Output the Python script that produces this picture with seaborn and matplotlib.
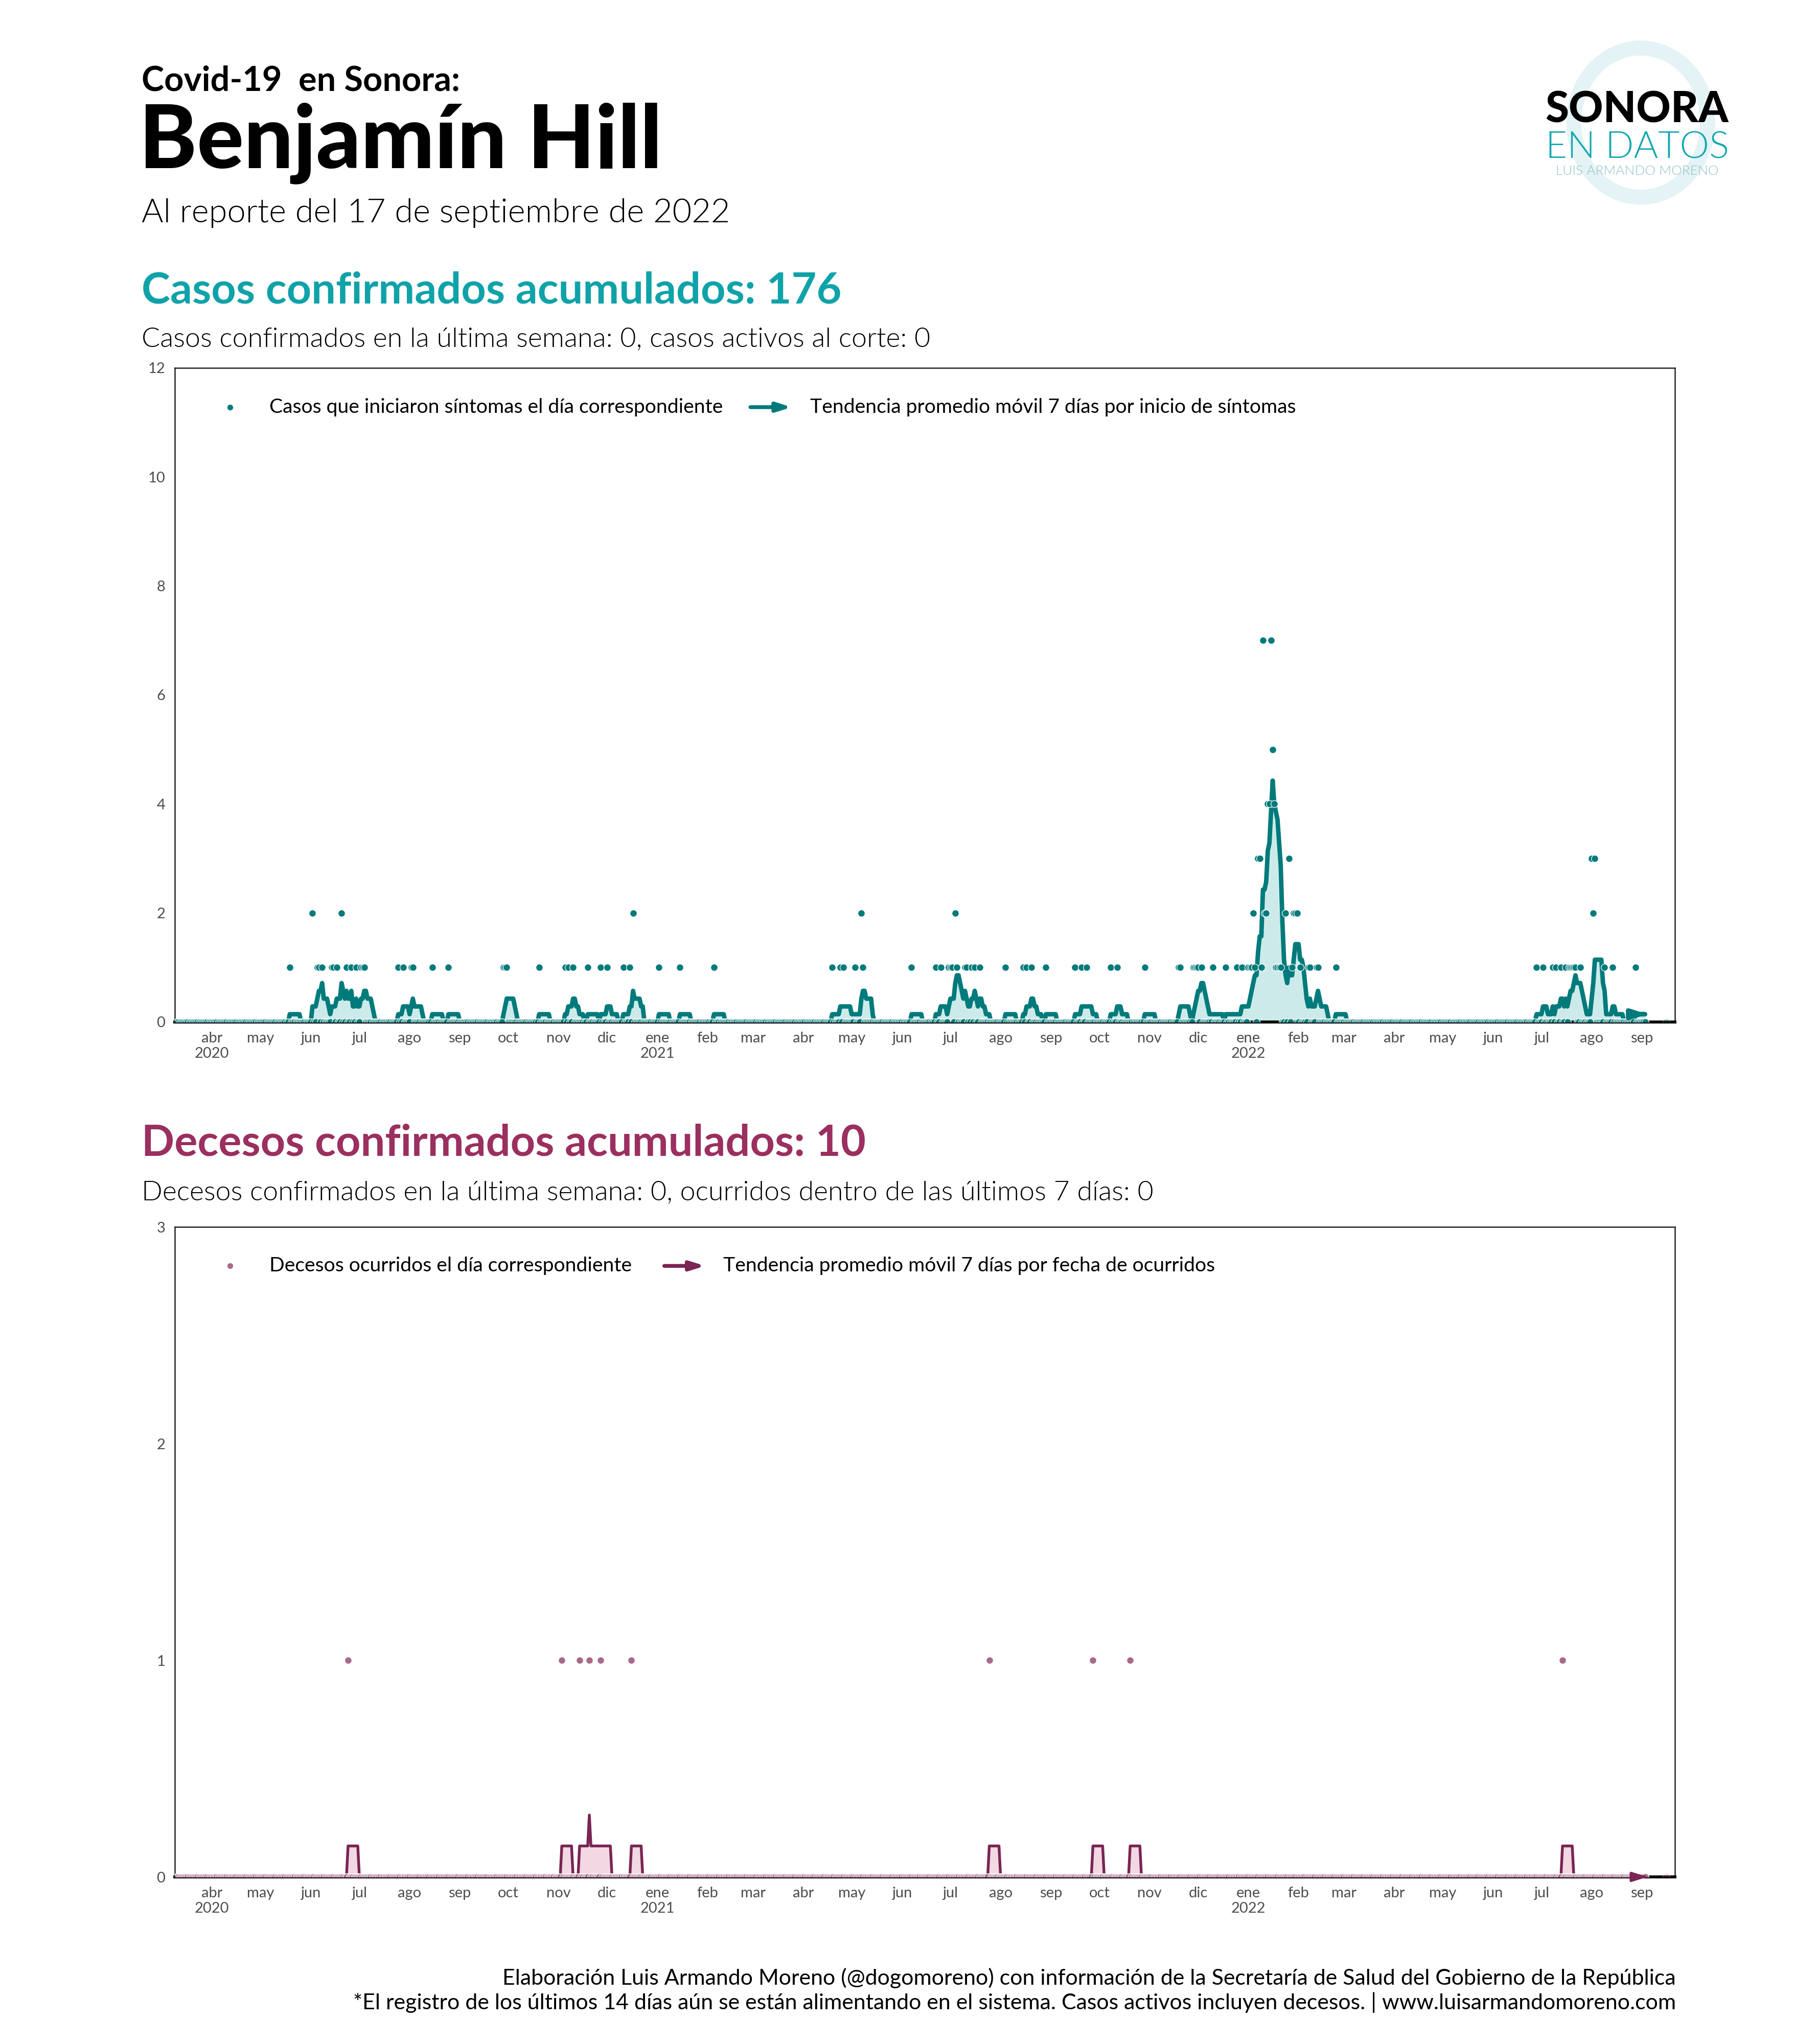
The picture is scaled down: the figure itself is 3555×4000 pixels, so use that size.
import os
import pandas as pd
import matplotlib
matplotlib.use("Agg")
import matplotlib.pyplot as plt
import matplotlib.dates as mdates
from matplotlib import font_manager as fm
from matplotlib.patches import Ellipse
import seaborn as sns

W, H, DPI = 3555, 4000, 300

# confirmed cases per day of symptom onset (days not listed had 0)
case_dates = [
    '2020-05-19', '2020-06-02', '2020-06-05', '2020-06-06', '2020-06-08',
    '2020-06-14', '2020-06-15', '2020-06-17', '2020-06-20', '2020-06-23',
    '2020-06-26', '2020-06-29', '2020-07-02', '2020-07-03', '2020-07-04',
    '2020-07-25', '2020-07-28', '2020-08-02', '2020-08-03', '2020-08-15',
    '2020-08-25', '2020-09-28', '2020-09-29', '2020-09-30', '2020-10-20',
    '2020-11-05', '2020-11-07', '2020-11-10', '2020-11-19', '2020-11-27',
    '2020-12-01', '2020-12-11', '2020-12-15', '2020-12-17',
    '2021-01-02', '2021-01-15', '2021-02-05', '2021-04-19', '2021-04-24',
    '2021-04-26', '2021-05-03', '2021-05-07', '2021-05-08', '2021-06-07',
    '2021-06-22', '2021-06-25', '2021-06-30', '2021-07-01', '2021-07-02',
    '2021-07-04', '2021-07-05', '2021-07-10', '2021-07-11', '2021-07-14',
    '2021-07-16', '2021-07-19', '2021-08-04', '2021-08-15', '2021-08-17',
    '2021-08-20', '2021-08-29', '2021-09-16', '2021-09-20', '2021-09-23',
    '2021-10-08', '2021-10-12', '2021-10-29', '2021-11-19', '2021-11-20',
    '2021-11-28', '2021-11-29', '2021-11-30', '2021-12-01', '2021-12-03',
    '2021-12-10', '2021-12-18', '2021-12-25', '2021-12-28',
    '2022-01-01', '2022-01-02', '2022-01-03', '2022-01-04', '2022-01-05',
    '2022-01-07', '2022-01-08', '2022-01-09', '2022-01-10', '2022-01-11',
    '2022-01-12', '2022-01-13', '2022-01-14', '2022-01-15', '2022-01-16',
    '2022-01-17', '2022-01-18', '2022-01-19', '2022-01-20', '2022-01-21',
    '2022-01-24', '2022-01-26', '2022-01-28', '2022-01-29', '2022-01-30',
    '2022-01-31', '2022-02-02', '2022-02-07', '2022-02-08', '2022-02-12',
    '2022-02-13', '2022-02-24', '2022-06-28', '2022-07-02', '2022-07-08',
    '2022-07-10', '2022-07-13', '2022-07-16', '2022-07-18', '2022-07-19',
    '2022-07-20', '2022-07-21', '2022-07-22', '2022-07-25', '2022-08-01',
    '2022-08-02', '2022-08-03', '2022-08-09', '2022-08-14', '2022-08-28',
]
case_counts = [
    1, 2, 1, 1, 1,
    1, 1, 1, 2, 1,
    1, 1, 1, 1, 1,
    1, 1, 1, 1, 1,
    1, 1, 1, 1, 1,
    1, 1, 1, 1, 1,
    1, 1, 1, 2,
    1, 1, 1, 1, 1,
    1, 1, 2, 1, 1,
    1, 1, 1, 1, 1,
    2, 1, 1, 1, 1,
    1, 1, 1, 1, 1,
    1, 1, 1, 1, 1,
    1, 1, 1, 1, 1,
    1, 1, 1, 1, 1,
    1, 1, 1, 1,
    1, 1, 1, 2, 1,
    3, 3, 1, 7, 2,
    2, 4, 4, 7, 5,
    4, 1, 1, 1, 1,
    2, 3, 1, 2, 2,
    2, 1, 1, 1, 1,
    1, 1, 1, 1, 1,
    1, 1, 1, 1, 1,
    1, 1, 1, 1, 3,
    2, 3, 1, 1, 1,
]

# confirmed deaths per day of occurrence
death_dates = [
    '2020-06-24', '2020-11-03', '2020-11-14', '2020-11-20', '2020-11-27',
    '2020-12-16', '2021-07-25', '2021-09-27', '2021-10-20', '2022-07-14',
]
death_counts = [1, 1, 1, 1, 1, 1, 1, 1, 1, 1]

first_day = '2020-03-10'
trend_end = '2022-09-03'   # last 14 days still being loaded
last_day = '2022-09-16'
month_abbr = ['ene', 'feb', 'mar', 'abr', 'may', 'jun',
              'jul', 'ago', 'sep', 'oct', 'nov', 'dic']

TEAL_T = '#0fa2a9'
TEAL = '#007a7b'
TEAL_F = '#cdeaea'
WINE_T = '#9b2f5f'
WINE = '#7a2552'
WINE_D = '#a86a8b'
WINE_F = '#f1d8e3'
GREY = '#4d4d4d'

WEIGHTS = {'light': 300, 'regular': 400, 'bold': 700, 'black': 900}
HEAD = '-|>,head_length=0.7,head_width=0.22'


def lato(style, size):
    """Pick the Lato file of a given style, so 'light' is not the hairline."""
    for f in fm.fontManager.ttflist:
        base = os.path.basename(f.fname).lower()
        if base in ('lato-%s.ttf' % style, 'lato-%s.otf' % style):
            return fm.FontProperties(fname=f.fname, size=size)
    return fm.FontProperties(family=['Lato', 'DejaVu Sans'],
                             weight=WEIGHTS[style], size=size)


def daily(dates, counts):
    idx = pd.date_range(first_day, last_day, freq='D')
    s = pd.Series(counts, index=pd.to_datetime(dates))
    s = s.groupby(level=0).sum().reindex(idx, fill_value=0)
    df = pd.DataFrame({'fecha': idx, 'n': s.values})
    df['media'] = df['n'].rolling(7, min_periods=1).mean()
    return df


def px(x, y):
    return x / W, 1 - y / H


def panel(ax, df, ymax, yticks, dot_c, line_c, fill_c, lw,
          dot_label, line_label, arrow_x):
    trend = df[df['fecha'] <= trend_end]
    ax.fill_between(trend['fecha'], 0, trend['media'], color=fill_c,
                    lw=0, zorder=1)
    sns.lineplot(data=trend, x='fecha', y='media', color=line_c, lw=lw,
                 ax=ax, zorder=2)
    sns.scatterplot(data=trend, x='fecha', y='n', color=dot_c,
                    edgecolor='white', linewidth=0.3, s=11, ax=ax, zorder=3)
    last = df[df['fecha'] == last_day]
    sns.scatterplot(data=last, x='fecha', y='n', color=dot_c, alpha=0.25,
                    edgecolor='white', linewidth=0.3, s=11, ax=ax, zorder=3)

    # arrow head at the end of the trend
    x0 = mdates.date2num(trend['fecha'].iloc[-2])
    x1 = mdates.date2num(trend['fecha'].iloc[-1])
    y0, y1 = trend['media'].iloc[-2], trend['media'].iloc[-1]
    ax.annotate('', xy=(x1 + 1.5, y1), xytext=(x0, y0),
                arrowprops=dict(arrowstyle=HEAD, color=line_c, lw=lw,
                                shrinkA=0, shrinkB=0, mutation_scale=8),
                zorder=4)

    ax.set_xlim(pd.Timestamp('2020-03-09 00:00'),
                pd.Timestamp('2022-09-21 10:00'))
    ax.set_ylim(0, ymax)
    ax.set_yticks(yticks)
    ticks = pd.date_range('2020-04-01', '2022-09-01', freq='MS')
    labels = []
    for i, t in enumerate(ticks):
        lab = month_abbr[t.month - 1]
        if i == 0 or t.month == 1:
            lab += '\n' + str(t.year)
        labels.append(lab)
    ax.set_xticks(ticks)
    ax.set_xticklabels(labels)
    ax.set_xlabel('')
    ax.set_ylabel('')
    for side in ['top', 'right', 'left']:
        ax.spines[side].set_visible(True)
        ax.spines[side].set_linewidth(0.6)
        ax.spines[side].set_color('#222222')
    ax.spines['bottom'].set_linewidth(1.4)
    ax.spines['bottom'].set_color('black')
    ax.tick_params(axis='both', direction='out', length=2.5, width=0.9,
                   color='#333333', labelsize=7, labelcolor=GREY, pad=2)
    ax.grid(False)

    # legend keys
    ly = 0.94
    ax.plot([0.0368], [ly], 'o', ms=3.0, mfc=dot_c, mec='white', mew=0.3,
            transform=ax.transAxes, clip_on=False)
    ax.text(0.0632, ly, dot_label, transform=ax.transAxes,
            fontproperties=lato('regular', 9.4), va='center', ha='left')
    ax.annotate('', xy=(arrow_x[1], ly), xytext=(arrow_x[0], ly),
                xycoords='axes fraction',
                arrowprops=dict(arrowstyle=HEAD, color=line_c, lw=1.8,
                                shrinkA=0, shrinkB=0, mutation_scale=8))
    ax.text(arrow_x[2], ly, line_label, transform=ax.transAxes,
            fontproperties=lato('regular', 9.4), va='center', ha='left')


def main():
    sns.set_style('white')
    plt.rcParams['font.family'] = ['Lato', 'DejaVu Sans']
    plt.rcParams['text.color'] = 'black'

    casos = daily(case_dates, case_counts)
    decesos = daily(death_dates, death_counts)

    fig = plt.figure(figsize=(W / DPI, H / DPI), dpi=DPI)
    fig.patch.set_facecolor('white')

    ax1 = fig.add_axes([342 / W, 1 - 2000 / H, 2935 / W, 1280 / H])
    panel(ax1, casos, 12, range(0, 13, 2), TEAL, TEAL, TEAL_F, 2.1,
          'Casos que iniciaron síntomas el día correspondiente',
          'Tendencia promedio móvil 7 días por inicio de síntomas',
          (0.3837, 0.4112, 0.4234))

    ax2 = fig.add_axes([342 / W, 1 - 3673 / H, 2935 / W, 1272 / H])
    panel(ax2, decesos, 3, range(0, 4), WINE_D, WINE, WINE_F, 1.3,
          'Decesos ocurridos el día correspondiente',
          'Tendencia promedio móvil 7 días por fecha de ocurridos',
          (0.3263, 0.3535, 0.3655))

    # header
    fig.text(*px(277, 177), 'Covid-19  en Sonora:',
             fontproperties=lato('bold', 16), va='baseline')
    fig.text(*px(272, 328), 'Benjamín Hill',
             fontproperties=lato('black', 41), va='baseline')
    fig.text(*px(277, 435), 'Al reporte del 17 de septiembre de 2022',
             fontproperties=lato('light', 15.6), va='baseline')

    fig.text(*px(277, 593), 'Casos confirmados acumulados: 176',
             fontproperties=lato('bold', 20.3), color=TEAL_T, va='baseline')
    fig.text(*px(277, 678),
             'Casos confirmados en la última semana: 0, casos activos al corte: 0',
             fontproperties=lato('light', 12.9), va='baseline')

    fig.text(*px(277, 2262), 'Decesos confirmados acumulados: 10',
             fontproperties=lato('bold', 20.3), color=WINE_T, va='baseline')
    fig.text(*px(277, 2348),
             'Decesos confirmados en la última semana: 0, ocurridos dentro '
             'de las últimos 7 días: 0',
             fontproperties=lato('light', 12.9), va='baseline')

    # logo
    ring = Ellipse(px(3210, 240), 262 / W, 292 / H, fill=False,
                   lw=7, edgecolor='#e4f3f5', transform=fig.transFigure,
                   zorder=0)
    fig.patches.append(ring)
    fig.text(*px(3203, 239), 'SONORA', fontproperties=lato('black', 20),
             ha='center', va='baseline', zorder=2)
    fig.text(*px(3203, 309), 'EN DATOS', fontproperties=lato('light', 17.5),
             color='#13a7b1', ha='center', va='baseline', zorder=2)
    fig.text(*px(3203, 342), 'LUIS ARMANDO MORENO',
             fontproperties=lato('light', 6.3), color='#8abfc4',
             ha='center', va='baseline', zorder=2)

    # footer
    fig.text(*px(3279, 3884),
             'Elaboración Luis Armando Moreno (@dogomoreno) con información '
             'de la Secretaría de Salud del Gobierno de la República',
             fontproperties=lato('regular', 10.3), ha='right', va='baseline')
    fig.text(*px(3279, 3932),
             '*El registro de los últimos 14 días aún se están alimentando '
             'en el sistema. Casos activos incluyen decesos. | '
             'www.luisarmandomoreno.com',
             fontproperties=lato('regular', 10.3), ha='right', va='baseline')

    fig.savefig('out.png', dpi=DPI, facecolor='white')


if __name__ == '__main__':
    main()
